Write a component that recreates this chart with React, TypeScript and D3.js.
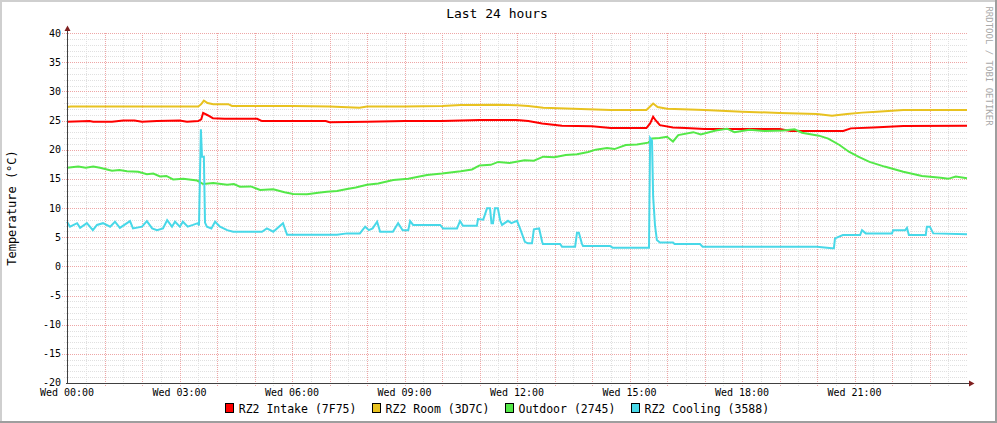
import * as d3 from "d3";

type Pt = [number, number];

const title = "Last 24 hours";
const yTitle = "Temperature (°C)";
const watermark = "RRDTOOL / TOBI OETIKER";

const yTicks = [-20, -15, -10, -5, 0, 5, 10, 15, 20, 25, 30, 35, 40];
const timeLabelHours = [0, 3, 6, 9, 12, 15, 18, 21];
const timeLabels = [
  "Wed 00:00",
  "Wed 03:00",
  "Wed 06:00",
  "Wed 09:00",
  "Wed 12:00",
  "Wed 15:00",
  "Wed 18:00",
  "Wed 21:00",
];

const intake: Pt[] = [
  [0, 24.8], [0.6, 24.9], [0.7, 24.8], [1.2, 24.8], [1.5, 25.0], [1.8, 25.0], [2.0, 24.8],
  [2.4, 24.9], [3.0, 25.0], [3.2, 24.8], [3.5, 24.9], [3.58, 25.2], [3.63, 26.3],
  [3.75, 25.9], [3.89, 25.4], [4.2, 25.3], [5.07, 25.3], [5.2, 24.9], [6.9, 24.9],
  [7.0, 24.7], [8.0, 24.8], [9.0, 24.9], [10.0, 24.9], [11.0, 25.1], [12.0, 25.1],
  [12.3, 24.9], [12.67, 24.5], [13.2, 24.1], [14.0, 24.0], [14.5, 23.7], [15.45, 23.7],
  [15.55, 24.5], [15.63, 25.65], [15.7, 25.0], [15.81, 24.2], [16.16, 23.8], [16.5, 23.7],
  [17.0, 23.55], [19.0, 23.55], [19.3, 23.2], [20.7, 23.2], [20.9, 23.65], [21.5, 23.8],
  [22.3, 24.05], [24, 24.1],
];

const room: Pt[] = [
  [0, 27.3], [0.1, 27.4], [1.0, 27.4], [2.0, 27.4], [3.0, 27.4], [3.5, 27.4],
  [3.58, 27.8], [3.65, 28.4], [3.75, 28.0], [3.9, 27.8], [4.3, 27.8], [4.4, 27.5],
  [6.0, 27.5], [7.0, 27.4], [7.8, 27.2], [8.0, 27.4], [9.0, 27.4], [10.0, 27.5],
  [10.5, 27.65], [11.5, 27.7], [12.0, 27.6], [12.3, 27.5], [12.7, 27.2], [13.5, 27.0],
  [14.5, 26.8], [15.45, 26.8], [15.55, 27.4], [15.63, 27.9], [15.75, 27.3], [16.0, 27.0],
  [17.0, 26.8], [18.0, 26.5], [19.0, 26.3], [20.0, 26.1], [20.4, 25.8], [20.8, 26.1],
  [21.2, 26.35], [21.6, 26.5], [22.3, 26.8], [24, 26.8],
];

const outdoor: Pt[] = [
  [0, 16.9], [0.3, 17.1], [0.5, 16.9], [0.7, 17.1], [0.88, 16.9], [1.2, 16.4],
  [1.4, 16.5], [1.6, 16.3], [1.9, 16.2], [2.13, 15.8], [2.3, 15.9], [2.48, 15.4],
  [2.65, 15.5], [2.83, 14.9], [3.1, 15.0], [3.47, 14.7], [3.63, 14.1], [3.9, 14.3],
  [4.27, 14.0], [4.45, 14.1], [4.61, 13.65], [4.9, 13.7], [5.15, 13.1], [5.5, 13.2],
  [5.8, 12.7], [6.03, 12.4], [6.4, 12.35], [6.7, 12.6], [6.93, 12.8], [7.2, 12.9],
  [7.47, 13.25], [7.7, 13.5], [8.0, 14.0], [8.3, 14.2], [8.7, 14.8], [9.1, 15.0],
  [9.6, 15.65], [10.0, 15.9], [10.5, 16.3], [10.8, 16.6], [11.0, 17.3], [11.3, 17.4],
  [11.5, 17.9], [11.8, 17.7], [12.2, 18.2], [12.45, 18.1], [12.7, 18.8], [13.0, 18.7],
  [13.3, 19.1], [13.6, 19.2], [13.9, 19.6], [14.1, 20.0], [14.4, 20.3], [14.6, 20.1],
  [14.9, 20.8], [15.2, 20.9], [15.5, 21.2], [15.6, 21.9], [15.8, 22.0], [16.0, 22.2],
  [16.16, 21.4], [16.3, 22.5], [16.7, 23.0], [16.9, 22.6], [17.3, 23.3], [17.6, 23.6],
  [17.8, 23.0], [18.2, 23.4], [18.6, 23.2], [19.1, 23.3], [19.4, 23.5], [19.6, 22.9],
  [20.05, 22.4], [20.3, 21.9], [20.6, 20.8], [20.85, 19.65], [21.1, 18.8], [21.4, 17.9],
  [21.8, 17.1], [22.3, 16.2], [22.8, 15.5], [23.3, 15.2], [23.5, 15.0], [23.7, 15.4],
  [24, 15.1],
];

const cooling: Pt[] = [
  [0, 7.65], [0.08, 6.8], [0.27, 7.4], [0.35, 6.6], [0.53, 7.4], [0.69, 6.2],
  [0.8, 7.1], [0.96, 7.4], [1.15, 6.8], [1.28, 7.65], [1.41, 6.6], [1.68, 7.76],
  [1.76, 6.5], [2.0, 6.8], [2.13, 7.76], [2.27, 6.5], [2.4, 6.2], [2.56, 6.5],
  [2.67, 7.9], [2.8, 6.8], [2.88, 7.65], [3.01, 6.8], [3.09, 7.65], [3.22, 6.8],
  [3.36, 7.1], [3.49, 7.4], [3.52, 7.0], [3.57, 23.5], [3.6, 18.8], [3.65, 18.8],
  [3.68, 7.5], [3.73, 6.8], [3.85, 6.5], [3.95, 7.65], [4.08, 6.8], [4.27, 6.2],
  [4.43, 5.93], [5.2, 5.93], [5.33, 6.5], [5.5, 5.93], [5.76, 7.4], [5.87, 5.4],
  [6.5, 5.4], [7.2, 5.4], [7.47, 5.65], [7.81, 5.65], [7.95, 6.8], [8.05, 6.2],
  [8.15, 6.5], [8.27, 7.65], [8.35, 5.93], [8.69, 5.93], [8.83, 7.4], [8.95, 6.2],
  [9.1, 6.2], [9.15, 7.76], [9.23, 7.1], [9.95, 7.1], [10.03, 6.5], [10.4, 6.5],
  [10.48, 7.76], [10.56, 6.95], [10.93, 6.95], [10.96, 8.1], [11.1, 8.0], [11.2, 9.94],
  [11.28, 9.94], [11.32, 7.4], [11.36, 7.4], [11.41, 9.94], [11.49, 9.94], [11.55, 7.9],
  [11.6, 7.1], [11.76, 7.8], [11.85, 7.4], [12.0, 7.8], [12.08, 6.5], [12.21, 4.2],
  [12.29, 3.95], [12.4, 3.95], [12.45, 6.35], [12.59, 6.5], [12.67, 4.2], [12.69, 3.83],
  [13.15, 3.83], [13.2, 3.37], [13.55, 3.37], [13.6, 5.77], [13.65, 5.77], [13.73, 3.9],
  [13.76, 3.5], [14.48, 3.5], [14.55, 3.2], [15.47, 3.2], [15.52, 3.2], [15.55, 22.0],
  [15.6, 21.5], [15.63, 12.0], [15.68, 7.0], [15.73, 4.5], [15.81, 4.1], [16.16, 4.1],
  [16.2, 3.83], [16.88, 3.83], [16.95, 3.37], [20.0, 3.37], [20.4, 3.1], [20.45, 3.1],
  [20.48, 4.8], [20.69, 5.37], [21.15, 5.37], [21.2, 6.2], [21.3, 5.65], [22.0, 5.65],
  [22.03, 6.2], [22.35, 6.2], [22.4, 6.6], [22.45, 5.37], [22.9, 5.37], [22.93, 6.8],
  [23.01, 6.8], [23.1, 5.65], [24, 5.5],
];

const seriesNames = [
  "RZ2 Intake (7F75)",
  "RZ2 Room (3D7C)",
  "Outdoor (2745)",
  "RZ2 Cooling (3588)",
];
const seriesColors = ["#FF0000", "#E8C220", "#54E848", "#48D8E8"];
const seriesData = [intake, room, outdoor, cooling];

const W = 997;
const H = 423;
const font = "'DejaVu Sans Mono', monospace";

export default function App() {
  const x = d3.scaleLinear().domain([0, 24]).range([67, 967]);
  const y = d3.scaleLinear().domain([-20, 40]).range([383, 33]);
  const px = (v: number) => Math.round(v) + 0.5;

  const line = d3
    .line<Pt>()
    .x((d) => x(d[0]))
    .y((d) => y(d[1]));

  const minorX = d3.range(0.5, 24, 1);
  const majorX = d3.range(1, 24, 1);
  const minorY = d3.range(-19, 40, 1).filter((v) => v % 5 !== 0);
  const majorY = yTicks.filter((v) => v !== -20);

  // legend layout
  const charW = 6.93;
  const widths = seriesNames.map((s) => 14 + s.length * charW);
  const total = d3.sum(widths) + 15 * (seriesNames.length - 1);
  let lx = 497 - total / 2;
  const legend = seriesNames.map((s, i) => {
    const pos = lx;
    lx += widths[i] + 15;
    return { name: s, color: seriesColors[i], x: pos };
  });

  return (
    <svg
      width={W}
      height={H}
      style={{ position: "absolute", left: 0, top: 0 }}
      fontFamily={font}
    >
      <rect x={0} y={0} width={W} height={H} fill="#ffffff" />
      {/* 3d frame */}
      <rect x={0} y={0} width={W} height={2} fill="#CFCFCF" />
      <rect x={0} y={0} width={2} height={H} fill="#CFCFCF" />
      <rect x={0} y={H - 2} width={W} height={2} fill="#9E9E9E" />
      <rect x={W - 2} y={0} width={2} height={H} fill="#9E9E9E" />

      <text x={497} y={18} textAnchor="middle" fontSize={13} fill="#000">
        {title}
      </text>

      <text
        transform={`translate(16,${(y(40) + y(-20)) / 2}) rotate(-90)`}
        textAnchor="middle"
        fontSize={12}
        fill="#000"
      >
        {yTitle}
      </text>

      <text
        transform={`translate(986,66) rotate(90)`}
        textAnchor="middle"
        fontSize={9}
        fill="#A8A8A8"
      >
        {watermark}
      </text>

      {/* grid */}
      <g strokeDasharray="1,1" strokeWidth={1} fill="none">
        {minorX.map((h) => (
          <line key={"mx" + h} x1={px(x(h))} x2={px(x(h))} y1={y(40)} y2={386} stroke="#E0E0E0" />
        ))}
        {minorY.map((v) => (
          <line key={"my" + v} x1={64} x2={968} y1={px(y(v))} y2={px(y(v))} stroke="#E0E0E0" />
        ))}
        {majorX.map((h) => (
          <line key={"Mx" + h} x1={px(x(h))} x2={px(x(h))} y1={y(40)} y2={387} stroke="#EEA6A6" />
        ))}
        {majorY.map((v) => (
          <line key={"My" + v} x1={62} x2={968} y1={px(y(v))} y2={px(y(v))} stroke="#EEA6A6" />
        ))}
      </g>

      {/* y tick labels */}
      {yTicks.map((v) => (
        <text key={"yl" + v} x={61} y={v === -20 ? y(v) - 1 : y(v)} dy="0.35em" textAnchor="end" fontSize={10} fill="#000">
          {v}
        </text>
      ))}

      {/* x tick labels */}
      {timeLabelHours.map((h, i) => (
        <text key={"xl" + h} x={x(h)} y={396} textAnchor="middle" fontSize={10} fill="#000">
          {timeLabels[i]}
        </text>
      ))}

      {/* series */}
      <g fill="none" strokeWidth={2} strokeLinejoin="miter">
        {seriesData.map((d, i) => (
          <path key={"s" + i} d={line(d) ?? ""} stroke={seriesColors[i]} />
        ))}
      </g>

      {/* axes */}
      <line x1={px(x(0))} x2={px(x(0))} y1={383.5} y2={30} stroke="#404040" strokeWidth={1} />
      <line x1={66} x2={970} y1={383.5} y2={383.5} stroke="#404040" strokeWidth={1} />
      <path d="M64.5,31 L67.5,25.5 L70.5,31 Z" fill="#7F1F1F" />
      <path d="M969,380.5 L974.5,383.5 L969,386.5 Z" fill="#7F1F1F" />

      {/* legend */}
      {legend.map((l) => (
        <g key={l.name}>
          <rect x={Math.round(l.x) + 0.5} y={403.5} width={8} height={9} fill={l.color} stroke="#000" strokeWidth={1} />
          <text x={l.x + 14} y={412.5} fontSize={11.5} fill="#000">
            {l.name}
          </text>
        </g>
      ))}
    </svg>
  );
}
